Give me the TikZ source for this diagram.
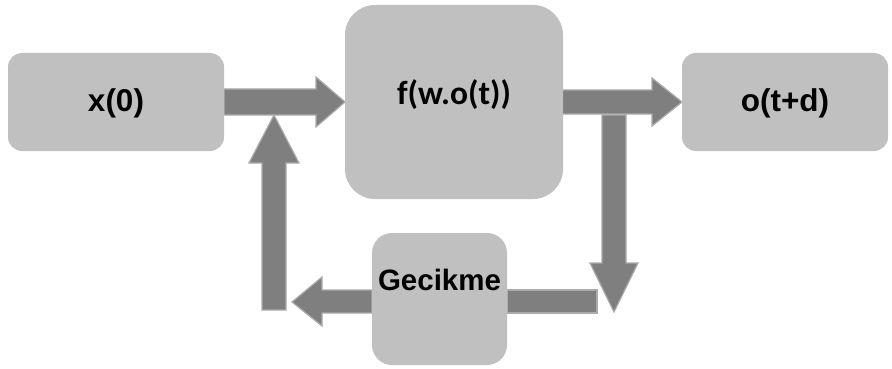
\documentclass[tikz,border=0pt]{standalone}
\usepackage{fontspec}
\setmainfont{Liberation Sans}
\newfontfamily\calfont{Carlito}
\usetikzlibrary{backgrounds}
\definecolor{boxgray}{HTML}{C0C0C0}
\definecolor{arrowgray}{HTML}{7F7F7F}
\definecolor{arrowedge}{HTML}{ABABAB}
\begin{document}
\begin{tikzpicture}[x=1pt,y=-1pt,
  box/.style={fill=boxgray, draw=none, rounded corners=#1, inner sep=0pt, align=center},
  blockarrow/.style={fill=arrowgray, draw=arrowedge, line width=1.2pt, line join=miter}]
\useasboundingbox (0,0) rectangle (892,369);
\node[box=14pt, minimum width=216pt, minimum height=98pt, font=\fontsize{31.5}{31.5}\bfseries, text height=25pt, text depth=6pt] (x0) at (116,102) {x(0)};
\node[box=30pt, minimum width=218pt, minimum height=194pt, font=\calfont\fontsize{33.5}{33.5}\bfseries, text height=23pt, text depth=19pt] (f) at (454,102) {f(w.o(t))};
\node[box=14pt, minimum width=206pt, minimum height=98pt, font=\fontsize{31.5}{31.5}\bfseries, text height=25pt, text depth=6pt] (o) at (785,102) {o(t+d)};
\node[box=20pt, minimum width=135pt, minimum height=132pt, font=\fontsize{29.5}{29.5}\bfseries, text height=20pt, text depth=38pt] (g) at (439.5,299) {Gecikme};
\begin{scope}[on background layer]
% x(0) -> f
\draw[blockarrow] (224,89) -- (316,89) -- (316,77) -- (345,102) -- (316,127) -- (316,115) -- (224,115) -- cycle;
% f -> o
\draw[blockarrow] (562,90) -- (652,90) -- (652,78) -- (682,102) -- (652,126) -- (652,114) -- (562,114) -- cycle;
% down arrow
\draw[blockarrow] (602,115) -- (626,115) -- (626,263) -- (638,263) -- (614,312) -- (590,263) -- (602,263) -- cycle;
% shaft to Gecikme
\draw[blockarrow] (597,290) -- (597,313) -- (507,313) -- (507,290) -- cycle;
% Gecikme -> left
\draw[blockarrow] (372,290) -- (322,290) -- (322,277) -- (292,302) -- (322,326) -- (322,313) -- (372,313) -- cycle;
% up arrow
\draw[blockarrow] (262,310) -- (262,163) -- (249,163) -- (274,115) -- (299,163) -- (286,163) -- (286,310) -- cycle;
\end{scope}
\end{tikzpicture}
\end{document}
